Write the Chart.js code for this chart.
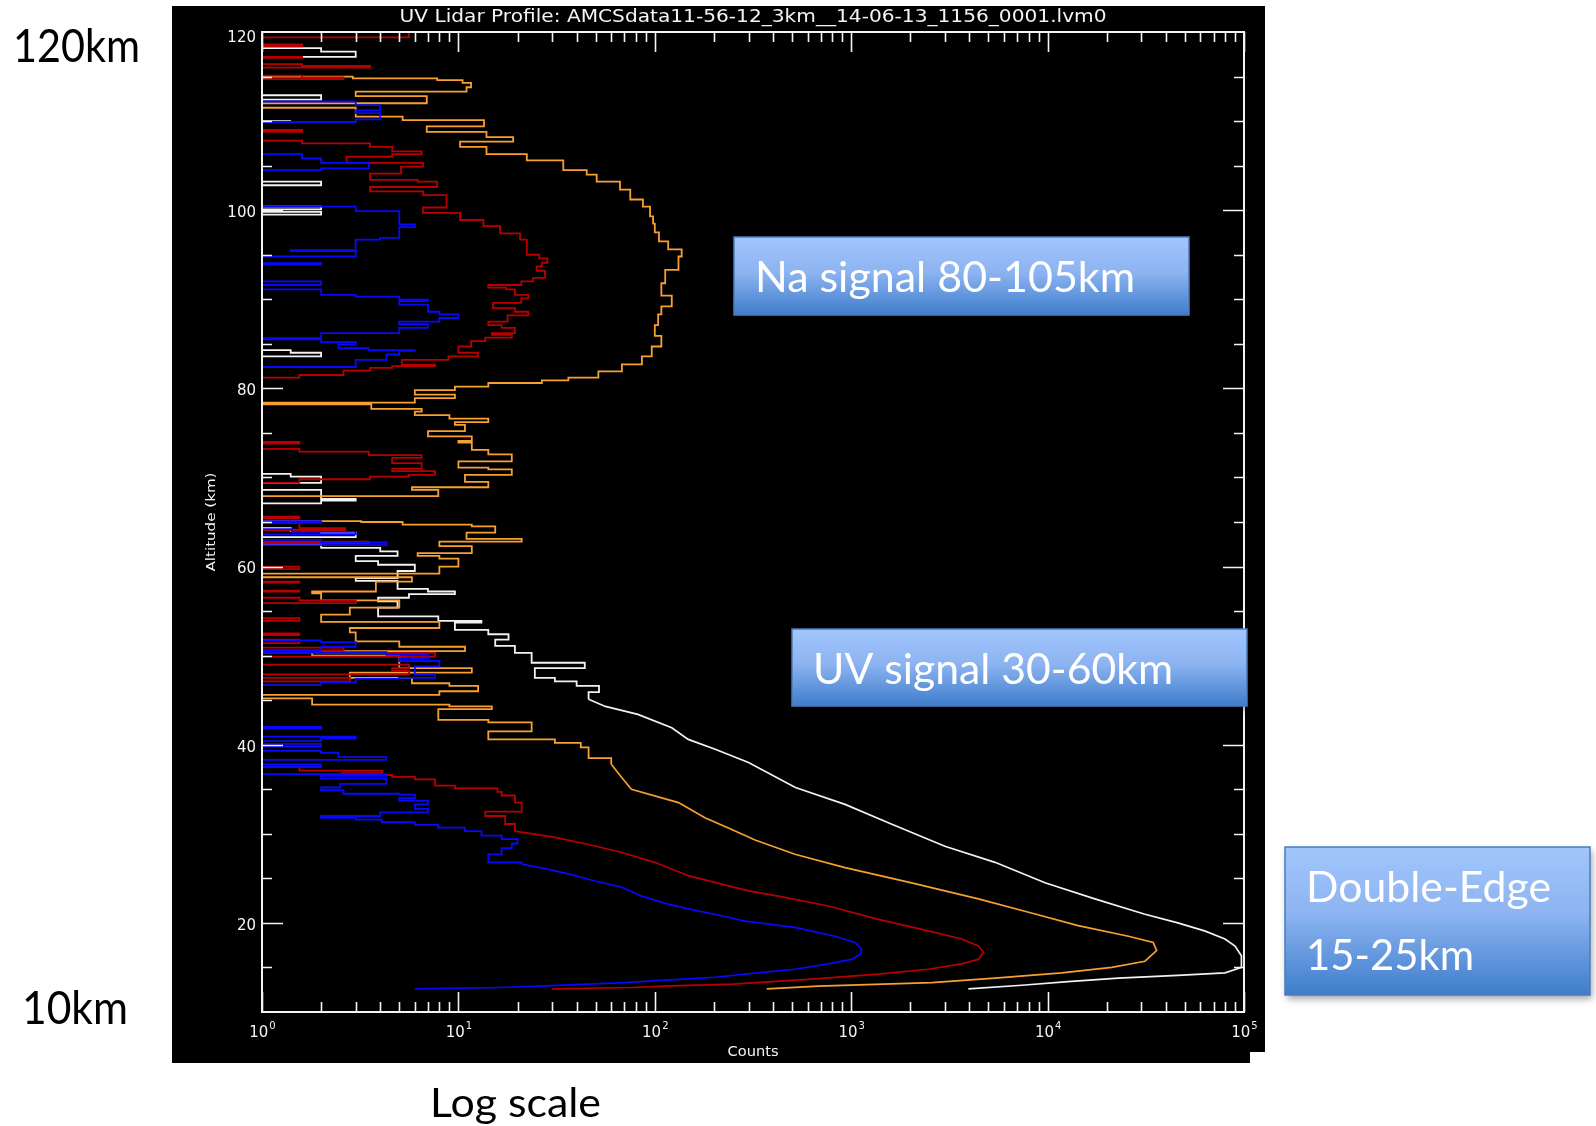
<!DOCTYPE html>
<html>
<head>
<meta charset="utf-8">
<script src="https://cdn.jsdelivr.net/npm/chart.js@4.4.1/dist/chart.umd.min.js"></script>
<style>
  html, body { margin: 0; padding: 0; background: #fff; }
  canvas { display: block; }
</style>
</head>
<body>
<canvas id="lidarChart" width="1596" height="1126"></canvas>
<script>
// profiles: [altitude km, counts]
// "smooth" parts are joined with straight lines, "noisy" parts are IDL-style steps
// (a step value holds from its altitude up to the next one)
const whiteSmooth = [
  [12.6, 3950], [13.0, 7400], [13.4, 12700], [13.8, 22900], [14.1, 46000], [14.4, 80000],
  [15.0, 97000], [16.3, 97000], [17.4, 90000], [18.2, 80000], [19.1, 63000], [20.0, 46000],
  [21.0, 31000], [22.7, 17400], [24.5, 9700], [26.8, 5400], [28.6, 3000], [31.1, 1600],
  [33.3, 930], [35.2, 520], [38.0, 300], [39.5, 203], [40.6, 148], [41.9, 122], [43.4, 82],
  [44.3, 56], [45.1, 46]
];
const whiteNoisy = [
  [45.1, 46], [45.9, 52], [46.6, 40], [47.1, 31], [47.5, 24.5], [48.6, 44],
  [49.2, 23.6], [50.3, 19.4], [51.1, 15.4], [51.8, 18], [52.4, 14.2], [52.9, 9.6], [53.7, 13.1],
  [53.9, 7.9], [54.4, 3.9], [55.4, 4.9], [56.1, 3.9], [56.5, 5.6], [56.9, 9.6], [57.2, 7],
  [57.5, 4.9], [58.4, 3], [58.7, 4.9], [59.5, 6], [60.2, 3.9], [60.6, 3], [61.2, 4.9], [61.7, 4],
  [62.1, 2], [62.5, 1], [63.3, 3], [63.8, 2], [64.0, 1.4], [64.3, 1], [67.1, 2], [67.4, 3],
  [67.6, 2], [68.6, 1], [69.4, 2], [70.1, 1.4], [70.4, 1], [83.6, 2], [84.0, 1.4], [84.3, 1],
  [99.5, 2], [99.8, 1], [100.1, 2], [100.4, 1], [102.8, 2], [103.2, 1], [109.9, 1.39], [110.0, 1],
  [112.4, 2], [112.9, 1], [117.2, 3], [117.8, 2], [118.2, 1], [120, 1]
];

const orangeSmooth = [
  [12.6, 371], [12.9, 680], [13.3, 2570], [13.8, 5400], [14.4, 11800], [15.0, 21200],
  [15.7, 31300], [16.9, 35900], [17.8, 34500], [18.5, 25800], [19.7, 14300], [21.2, 8000],
  [22.7, 4440], [24.5, 2030], [26.2, 930], [27.7, 517], [29.3, 324], [30.6, 240], [31.8, 180],
  [33.5, 132], [35.0, 76], [36.3, 68], [37.8, 60]
];
const orangeNoisy = [
  [37.8, 60], [38.5, 46], [39.7, 42], [40.2, 31],
  [40.6, 14.2], [41.5, 23.6], [42.5, 14.2], [42.8, 7.9], [44.0, 14.8], [44.3, 9], [44.5, 1.8],
  [45.2, 1], [45.6, 8], [46.0, 12.6], [46.6, 9], [46.9, 5.8], [47.5, 2.8], [48.1, 11.7],
  [48.6, 5], [50.0, 1.8], [50.5, 10.8], [51.0, 5], [51.6, 3], [52.6, 2.8], [53.1, 8], [53.8, 2],
  [54.6, 2.8], [55.4, 5], [56.2, 2], [57.0, 1.8], [57.2, 3.8], [58.3, 5.8], [58.8, 1], [59.2, 8],
  [60.0, 10], [60.9, 8], [61.2, 6.2], [61.5, 11.7], [62.3, 8], [62.8, 21], [63.1, 11],
  [63.8, 15.4], [64.5, 11.7], [64.7, 5.2], [65.0, 3.2], [65.1, 1], [67.9, 7.9], [68.6, 5.8],
  [68.9, 14.2], [69.5, 10.8], [70.3, 18.7], [70.9, 14.2], [71.1, 10], [71.8, 18.7], [72.6, 14.2],
  [73.1, 11.7], [73.9, 10], [74.1, 11.7], [74.6, 7], [75.2, 10.8], [75.9, 9.6], [76.2, 14.2],
  [76.6, 9], [77.0, 6], [77.4, 6.5], [77.7, 3.6], [78.2, 1], [78.4, 6], [78.9, 9.6], [79.3, 6],
  [79.8, 9.6], [80.2, 14.2], [80.6, 26.6], [80.9, 36.3], [81.2, 51.6], [81.9, 68], [82.7, 86],
  [83.6, 96.5], [84.7, 108], [85.9, 100], [87.1, 104], [88.3, 108], [89.2, 122], [90.4, 108],
  [91.8, 113], [93.3, 132], [94.8, 137], [95.6, 117], [96.5, 105], [97.5, 100], [98.5, 98],
  [99.3, 94.6], [100.4, 87], [101.2, 75], [102.3, 66.5], [103.2, 50.6], [104.0, 45], [104.5, 34.2],
  [105.6, 22.3], [106.3, 13.9], [107.1, 10.2], [107.7, 19], [108.2, 13.9], [108.8, 6.9],
  [109.4, 13.5], [110.1, 5.2], [110.5, 3], [111.5, 1], [112.0, 6.9], [112.8, 3], [113.3, 11],
  [113.8, 11.6], [114.3, 10.5], [114.6, 7.8], [114.8, 2.9], [115.0, 1], [120, 1]
];

const redSmooth = [
  [12.6, 30], [12.75, 76], [12.94, 122], [13.13, 250], [13.7, 630], [14.25, 1374], [14.8, 2470],
  [15.4, 3650], [15.9, 4440], [16.7, 4710], [17.4, 4440], [18.2, 3650], [19.1, 2470],
  [20.4, 1374], [21.9, 765], [23.0, 425], [23.6, 300], [24.35, 219], [25.3, 148], [26.8, 100],
  [27.9, 68], [28.8, 46], [29.6, 31], [30.3, 19.4]
];
const redNoisy = [
  [30.3, 19.4], [31.1, 17.3], [32.0, 13.7], [32.5, 21],
  [33.5, 19.4], [34.3, 16.6], [34.7, 15.8], [35.1, 9.6], [35.4, 7.6], [36.1, 6], [36.4, 4.6],
  [36.6, 2.55], [36.8, 4.1], [37.1, 1.55], [37.5, 1], [47.1, 2.8], [47.5, 1], [47.9, 5.6],
  [48.3, 4.6], [48.6, 5.6], [49.0, 1], [49.9, 7.6], [50.3, 1], [50.6, 2.6], [50.9, 1],
  [51.4, 1.55], [51.8, 1], [52.3, 1.55], [52.5, 1], [53.9, 1.55], [54.2, 1], [55.9, 3],
  [56.2, 1.55], [56.5, 1], [57.2, 1.55], [57.3, 1], [58.2, 1.55], [58.3, 1], [59.7, 1.55],
  [60.0, 1], [62.6, 3.5], [62.8, 1], [64.1, 2.65], [64.3, 1.55], [64.9, 1], [65.4, 1.55],
  [65.6, 1], [69.4, 1.55], [69.8, 3.55], [70.1, 5.6], [70.3, 7.6], [70.7, 4.6], [71.0, 6.5],
  [71.6, 4.6], [72.2, 6.5], [72.5, 3.5], [72.9, 1.55], [73.2, 1], [73.8, 1.55], [74.0, 1],
  [81.2, 1.55], [81.5, 2.6], [82.0, 3.55], [82.3, 4.6], [82.5, 7.6], [82.65, 5.15], [83.2, 8.9],
  [83.6, 12.6], [84.0, 10], [84.7, 11.6], [85.3, 13.7], [85.7, 18.7], [86.0, 14.8], [86.2, 19.4],
  [86.8, 16.6], [87.1, 14.2], [87.5, 17.8], [88.2, 22.7], [88.6, 19.4], [89.0, 15], [89.6, 20.9],
  [90.1, 22.7], [90.5, 19.4], [91.1, 17.5], [91.3, 14.2], [91.6, 20.9], [92.0, 24], [92.4, 27.6],
  [93.2, 25], [93.7, 26.6], [94.1, 28.4], [94.6, 25.8], [95.0, 22.3], [96.7, 20.6], [97.4, 16.3],
  [98.2, 13.4], [98.9, 10.2], [99.7, 6.6], [100.3, 8.7], [101.2, 8.7], [101.7, 6.6], [102.1, 3.55],
  [102.6, 7.8], [103.2, 6.2], [103.4, 3.55], [104.1, 5.1], [104.9, 6.6], [105.3, 2.7], [106.0, 4.6],
  [106.3, 6.5], [106.6, 4.6], [107.1, 3.55], [107.5, 1.6], [107.8, 1], [108.8, 1.6], [109.0, 1],
  [114.7, 2.6], [114.9, 1.6], [115.1, 1], [116.0, 3.55], [116.2, 1.6], [116.4, 1], [117.1, 1.6],
  [117.2, 1], [118.4, 1.6], [118.6, 1], [119.4, 5.6], [120, 5.6]
];

const blueSmooth = [
  [12.6, 6], [12.75, 16.3], [12.9, 26], [13.1, 41.6], [13.3, 70.5], [13.5, 96.5], [13.7, 142],
  [13.9, 203], [14.25, 288], [14.8, 517], [15.4, 765], [15.9, 1005], [16.5, 1115], [17.05, 1130],
  [17.8, 1046], [18.5, 827], [19.5, 517], [20.2, 288], [20.8, 219], [21.5, 154], [22.1, 117],
  [23.0, 86], [24.0, 68], [24.7, 49.6], [25.5, 36.3], [26.0, 28.7], [26.6, 21]
];
const blueNoisy = [
  [26.6, 21], [26.8, 14.2],
  [27.7, 16.6], [28.4, 18.7], [28.9, 20], [29.4, 16.6], [29.8, 13.1], [30.3, 10.8], [30.7, 7.9],
  [31.0, 6], [31.3, 4.07], [31.6, 3], [31.8, 2], [32.0, 4], [32.4, 7], [32.8, 6], [33.3, 7],
  [33.7, 5], [34.0, 6], [34.4, 5], [34.5, 2.6], [34.9, 2], [35.2, 2.5], [35.6, 4.3], [36.2, 2],
  [36.5, 4.3], [36.7, 1], [37.5, 2], [37.8, 1], [38.3, 4.3], [38.6, 2.45], [39.1, 2], [39.3, 1],
  [39.8, 2], [40.1, 1], [40.4, 2], [40.7, 3], [40.9, 1], [41.8, 2], [42.0, 1], [46.7, 2],
  [47.0, 3], [47.4, 5], [47.5, 7.6], [47.9, 6], [48.8, 8], [49.4, 5], [49.7, 7], [50.1, 4.3],
  [50.4, 1], [50.6, 2], [51.0, 3], [51.5, 2], [51.7, 1], [62.4, 4.3], [62.7, 2], [63.0, 1],
  [63.6, 3], [63.9, 1.42], [64.2, 1], [64.9, 2], [65.1, 1], [82.4, 3], [83.2, 4.3], [83.8, 5],
  [84.2, 6], [84.3, 3.5], [84.5, 2.45], [84.9, 3], [85.2, 2], [85.5, 1], [85.65, 2], [86.2, 5],
  [86.8, 7], [87.2, 5], [87.5, 8], [87.9, 10], [88.3, 8], [88.6, 7], [89.4, 5], [89.8, 7],
  [89.95, 5], [90.3, 3], [90.5, 2], [91.1, 1], [91.6, 2], [92.0, 1], [93.9, 2], [94.05, 1],
  [94.8, 3], [95.4, 1.4], [95.5, 3], [96.7, 4], [96.9, 5], [98.1, 6], [98.4, 5], [99.9, 3],
  [100.4, 1], [104.5, 2], [104.7, 3.5], [105.3, 2], [105.8, 1.6], [106.3, 1], [109.9, 3],
  [110.2, 4], [110.9, 3], [111.2, 4], [111.8, 3], [112.2, 1], [120, 1]
];

const altitudeTicks = [20, 40, 60, 80, 100, 120];
const countTicks = [1, 10, 100, 1000, 10000, 100000];
const countExponents = ['0', '1', '2', '3', '4', '5'];

const titleText = 'UV Lidar Profile: AMCSdata11-56-12_3km__14-06-13_1156_0001.lvm0';
const idlFont = '"DejaVu Sans", sans-serif';
const slideFont = 'Lato, "Open Sans", sans-serif';

const colorWhite  = '#f2f2f2';
const colorOrange = '#f7a030';
const colorRed    = '#b80000';
const colorBlue   = '#0808ff';

function toPoints(profile) {
  return profile.map(([alt, count]) => ({ x: count, y: alt }));
}

// draws text squeezed/stretched to a given width
function fitText(ctx, text, x, y, size, width, family, color, align) {
  ctx.save();
  ctx.font = size + 'px ' + family;
  const w = ctx.measureText(text).width;
  const left = align === 'center' ? x - width / 2 : x;
  ctx.translate(left, y);
  ctx.scale(width / w, 1);
  ctx.fillStyle = color;
  ctx.textAlign = 'left';
  ctx.textBaseline = 'alphabetic';
  ctx.fillText(text, 0, 0);
  ctx.restore();
}

function drawBox(ctx, x, y, w, h) {
  ctx.save();
  ctx.shadowColor = 'rgba(0,0,0,0.35)';
  ctx.shadowBlur = 7;
  ctx.shadowOffsetX = 2;
  ctx.shadowOffsetY = 4;
  const g = ctx.createLinearGradient(0, y, 0, y + h);
  g.addColorStop(0, '#a2c5fc');
  g.addColorStop(0.45, '#8db4f1');
  g.addColorStop(1, '#3e7dcb');
  ctx.fillStyle = g;
  ctx.fillRect(x, y, w, h);
  ctx.restore();
  ctx.save();
  ctx.strokeStyle = '#4a7dbb';
  ctx.lineWidth = 1.5;
  ctx.strokeRect(x, y, w, h);
  ctx.restore();
}

const idlFrame = {
  id: 'idlFrame',
  beforeDraw(chart) {
    const ctx = chart.ctx;
    ctx.save();
    ctx.fillStyle = '#ffffff';
    ctx.fillRect(0, 0, chart.width, chart.height);
    ctx.fillStyle = '#000000';
    ctx.fillRect(172, 6, 1093, 1057);
    ctx.fillStyle = '#ffffff';
    ctx.fillRect(1250, 1052, 15, 11);
    ctx.restore();
  },
  afterDraw(chart) {
    const ctx = chart.ctx;
    const a = chart.chartArea;
    const xs = chart.scales.x;
    const ys = chart.scales.y;

    ctx.save();
    ctx.strokeStyle = '#f4f4f4';
    ctx.lineWidth = 2;
    ctx.strokeRect(a.left, a.top, a.right - a.left, a.bottom - a.top);

    // inward ticks, IDL style
    ctx.lineWidth = 1.6;
    ctx.beginPath();
    for (let alt = 15; alt < 120; alt += 5) {
      const py = Math.round(ys.getPixelForValue(alt)) + 0.5;
      const len = altitudeTicks.includes(alt) ? 21 : 10;
      ctx.moveTo(a.left, py); ctx.lineTo(a.left + len, py);
      ctx.moveTo(a.right, py); ctx.lineTo(a.right - len, py);
    }
    countTicks.forEach(base => {
      for (let m = 1; m < 10; m++) {
        const v = base * m;
        if (v > 100000) break;
        const px = Math.round(xs.getPixelForValue(v)) + 0.5;
        const len = m === 1 ? 20 : 10;
        ctx.moveTo(px, a.bottom); ctx.lineTo(px, a.bottom - len);
        ctx.moveTo(px, a.top); ctx.lineTo(px, a.top + len);
      }
    });
    ctx.stroke();

    // tick labels
    ctx.fillStyle = '#f4f4f4';
    ctx.font = '15px ' + idlFont;
    ctx.textAlign = 'right';
    ctx.textBaseline = 'middle';
    altitudeTicks.forEach(alt => {
      const shift = alt === 120 ? 6 : 3;
      ctx.fillText(String(alt), a.left - 6, ys.getPixelForValue(alt) + shift);
    });
    ctx.textBaseline = 'alphabetic';
    countTicks.forEach((v, i) => {
      const px = xs.getPixelForValue(v);
      ctx.font = '15px ' + idlFont;
      const wBase = ctx.measureText('10').width;
      ctx.font = '10px ' + idlFont;
      const wExp = ctx.measureText(countExponents[i]).width;
      const left = px - (wBase + wExp) / 2;
      ctx.textAlign = 'left';
      ctx.font = '15px ' + idlFont;
      ctx.fillText('10', left, 1037);
      ctx.font = '10px ' + idlFont;
      ctx.fillText(countExponents[i], left + wBase + 1, 1029);
    });

    // axis titles and plot title
    fitText(ctx, 'Counts', (a.left + a.right) / 2, 1056, 14, 51, idlFont, '#f4f4f4', 'center');
    fitText(ctx, titleText, (a.left + a.right) / 2, 22, 17, 707, idlFont, '#f4f4f4', 'center');
    ctx.save();
    ctx.translate(215, (a.top + a.bottom) / 2);
    ctx.rotate(-Math.PI / 2);
    fitText(ctx, 'Altitude (km)', 0, 0, 13, 99, idlFont, '#f4f4f4', 'center');
    ctx.restore();

    // slide annotations
    drawBox(ctx, 734, 237, 455, 78);
    fitText(ctx, 'Na signal 80-105km', 755, 292, 42, 380, slideFont, '#ffffff', 'left');
    drawBox(ctx, 792, 629, 455, 77);
    fitText(ctx, 'UV signal 30-60km', 813, 684, 42, 360, slideFont, '#ffffff', 'left');
    drawBox(ctx, 1285, 847, 305, 148);
    fitText(ctx, 'Double-Edge', 1306, 902, 42, 245, slideFont, '#ffffff', 'left');
    fitText(ctx, '15-25km', 1306, 970, 42, 168, slideFont, '#ffffff', 'left');

    fitText(ctx, '120km', 13, 62, 47, 127, slideFont, '#000000', 'left');
    fitText(ctx, '10km', 22, 1024, 47, 106, slideFont, '#000000', 'left');
    fitText(ctx, 'Log scale', 430, 1117, 40, 171, slideFont, '#000000', 'left');
    ctx.restore();
  }
};

function profileDataset(profile, color, order, stepped) {
  return {
    data: toPoints(profile),
    showLine: true,
    stepped: stepped ? 'after' : false,
    borderColor: color,
    backgroundColor: color,
    borderWidth: stepped ? 1.8 : 1.7,
    pointRadius: 0,
    pointHoverRadius: 0,
    fill: false,
    order: order
  };
}

new Chart(document.getElementById('lidarChart'), {
  type: 'scatter',
  data: {
    datasets: [
      profileDataset(whiteSmooth, colorWhite, 8, false),
      profileDataset(whiteNoisy, colorWhite, 7, true),
      profileDataset(orangeSmooth, colorOrange, 6, false),
      profileDataset(orangeNoisy, colorOrange, 5, true),
      profileDataset(redSmooth, colorRed, 4, false),
      profileDataset(redNoisy, colorRed, 3, true),
      profileDataset(blueSmooth, colorBlue, 2, false),
      profileDataset(blueNoisy, colorBlue, 1, true)
    ]
  },
  options: {
    responsive: false,
    animation: false,
    devicePixelRatio: 1,
    layout: { padding: { left: 262, right: 352, top: 32, bottom: 114 } },
    plugins: { legend: { display: false }, tooltip: { enabled: false } },
    scales: {
      x: { type: 'logarithmic', min: 1, max: 100000, display: false },
      y: { type: 'linear', min: 10, max: 120, display: false }
    }
  },
  plugins: [idlFrame]
});
</script>
</body>
</html>
